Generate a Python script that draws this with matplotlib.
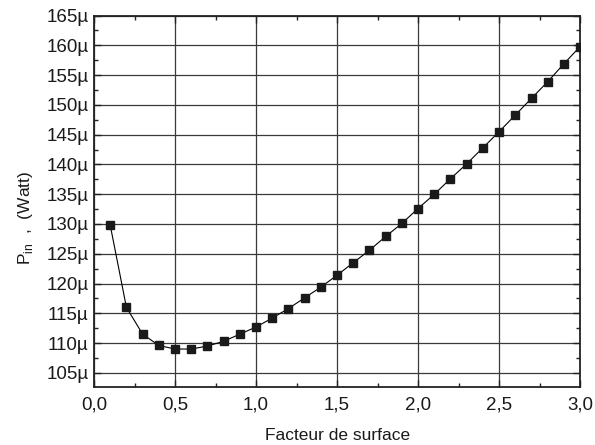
import matplotlib
matplotlib.use("Agg")
import matplotlib.pyplot as plt
from matplotlib.ticker import MultipleLocator, FuncFormatter

plt.rcParams['font.family'] = ['Liberation Sans', 'DejaVu Sans']

# facteur de surface et puissance d'entree (en µW)
facteur = [0.1, 0.2, 0.3, 0.4, 0.5, 0.6, 0.7, 0.8, 0.9, 1.0,
           1.1, 1.2, 1.3, 1.4, 1.5, 1.6, 1.7, 1.8, 1.9, 2.0,
           2.1, 2.2, 2.3, 2.4, 2.5, 2.6, 2.7, 2.8, 2.9, 3.0]
p_in = [129.8, 116.0, 111.5, 109.6, 109.0, 109.0, 109.5, 110.3, 111.5, 112.7,
        114.2, 115.8, 117.6, 119.4, 121.4, 123.5, 125.6, 127.9, 130.1, 132.6,
        135.0, 137.6, 140.1, 142.8, 145.5, 148.3, 151.1, 153.9, 156.9, 159.8]

fig = plt.figure(figsize=(5.95, 4.45), dpi=100)
ax = fig.add_axes([0.158, 0.130, 0.817, 0.835])

ax.plot(facteur, p_in, color='black', lw=0.8, marker='s', ms=5.6,
        mfc='#1a1a1a', mec='#1a1a1a', zorder=3)

ax.set_xlim(0, 3.0)
ax.set_ylim(102.6, 165)
ax.xaxis.set_major_locator(MultipleLocator(0.5))
ax.xaxis.set_minor_locator(MultipleLocator(0.25))
ax.yaxis.set_major_locator(MultipleLocator(5))
ax.yaxis.set_minor_locator(MultipleLocator(2.5))
ax.xaxis.set_major_formatter(FuncFormatter(lambda v, p: f"{v:.1f}".replace('.', ',')))
ax.yaxis.set_major_formatter(FuncFormatter(lambda v, p: f"{v:.0f}µ"))

ax.grid(True, which='major', color='#3a3a3a', lw=0.9)
ax.tick_params(which='both', direction='in', top=True, right=True,
               labelsize=13.5, color='#222222', labelcolor='#1a1a1a')
ax.tick_params(which='major', length=5, width=1)
ax.tick_params(which='minor', length=3, width=1)
ax.tick_params(axis='x', pad=7)
ax.tick_params(axis='y', pad=4)
for s in ax.spines.values():
    s.set_linewidth(1.3)
    s.set_color('#222222')

ax.set_xlabel('Facteur de surface', fontsize=12.5, labelpad=10, color='#1a1a1a')
ax.set_ylabel(r'P$_{\mathregular{in}}$  ,  (Watt)', fontsize=12.5, color='#1a1a1a')
ax.yaxis.set_label_coords(-0.122, 0.455)

fig.savefig('out.png', dpi=100)
